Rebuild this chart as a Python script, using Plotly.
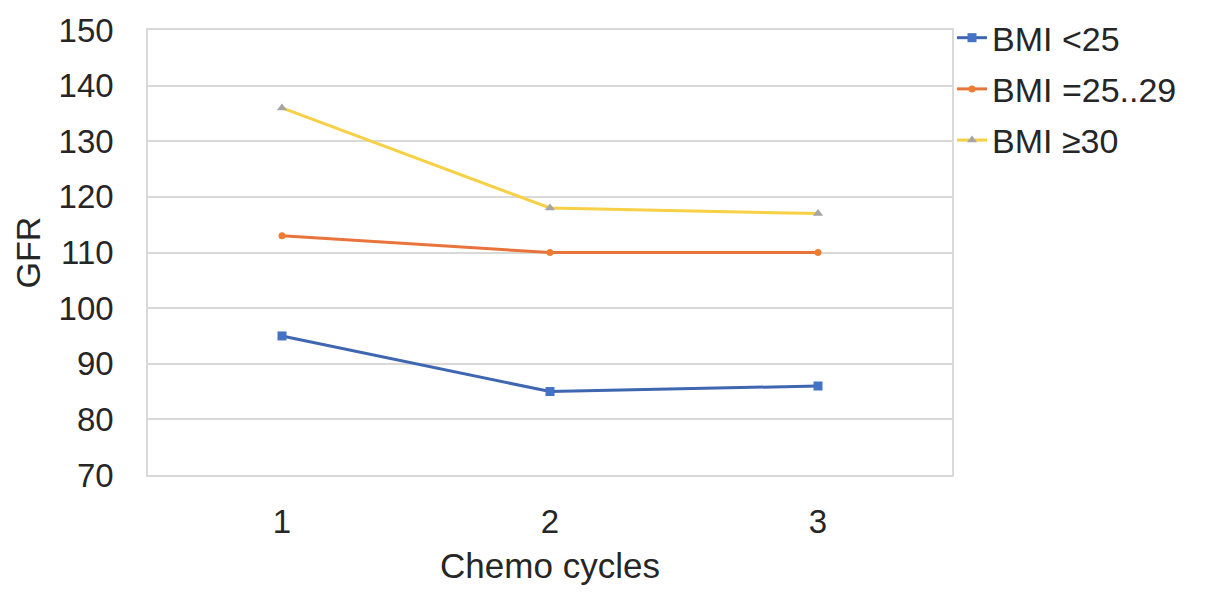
import plotly.graph_objects as go

cycles = [1, 2, 3]
cycle_labels = ["1", "2", "3"]
bmi_lt25 = [95, 85, 86]
bmi_25_29 = [113, 110, 110]
bmi_ge30 = [136, 118, 117]
series_names = ["BMI <25", "BMI =25..29", "BMI \u226530"]

fig = go.Figure()
fig.add_trace(go.Scatter(x=cycles, y=bmi_lt25, name=series_names[0], mode="lines+markers",
                         legendgroup="a",
                         line=dict(color="#3F66B0", width=3),
                         marker=dict(symbol="square", size=9, color="#4472C4")))
fig.add_trace(go.Scatter(x=cycles, y=bmi_25_29, name=series_names[1], mode="lines+markers",
                         legendgroup="b",
                         line=dict(color="#E8743B", width=3),
                         marker=dict(symbol="circle", size=7, color="#ED7D31")))
fig.add_trace(go.Scatter(x=cycles, y=bmi_ge30, name=series_names[2], mode="lines+markers",
                         legendgroup="c",
                         line=dict(color="#F7D046", width=3),
                         marker=dict(symbol="triangle-up", size=9, color="#A5A5A5")))

font_family = "Liberation Sans, Arial, sans-serif"
fs = 33
fig.update_layout(
    width=1205, height=601,
    margin=dict(l=140, r=261, t=22, b=134, autoexpand=False),
    paper_bgcolor="white", plot_bgcolor="white",
    font=dict(family=font_family, size=fs, color="#262626"),
    xaxis=dict(range=[0.5, 3.5], tickvals=cycles, ticktext=cycle_labels, automargin=False,
               showgrid=False, zeroline=False, showline=True, mirror=True,
               linecolor="#D9D9D9", linewidth=1.5, ticks="", ticklabelstandoff=17,
               tickfont=dict(size=fs, color="#262626"),
               title=dict(text="Chemo cycles", font=dict(size=35, color="#262626"), standoff=14)),
    yaxis=dict(range=[70, 150], dtick=10, tick0=70, automargin=False,
               showgrid=True, gridcolor="#D9D9D9", gridwidth=1.5, zeroline=False,
               showline=True, mirror=True, linecolor="#D9D9D9", linewidth=1.5,
               ticks="", ticklabelstandoff=26, tickfont=dict(size=fs, color="#262626"),
               title=dict(text="GFR", font=dict(size=34, color="#262626"), standoff=8)),
    legend=dict(x=1.0, y=1.047, xanchor="left", yanchor="top",
                font=dict(size=34, color="#262626"), itemwidth=30,
                tracegroupgap=4, bgcolor="rgba(0,0,0,0)"),
    showlegend=True,
)

fig.write_html("out.html")
